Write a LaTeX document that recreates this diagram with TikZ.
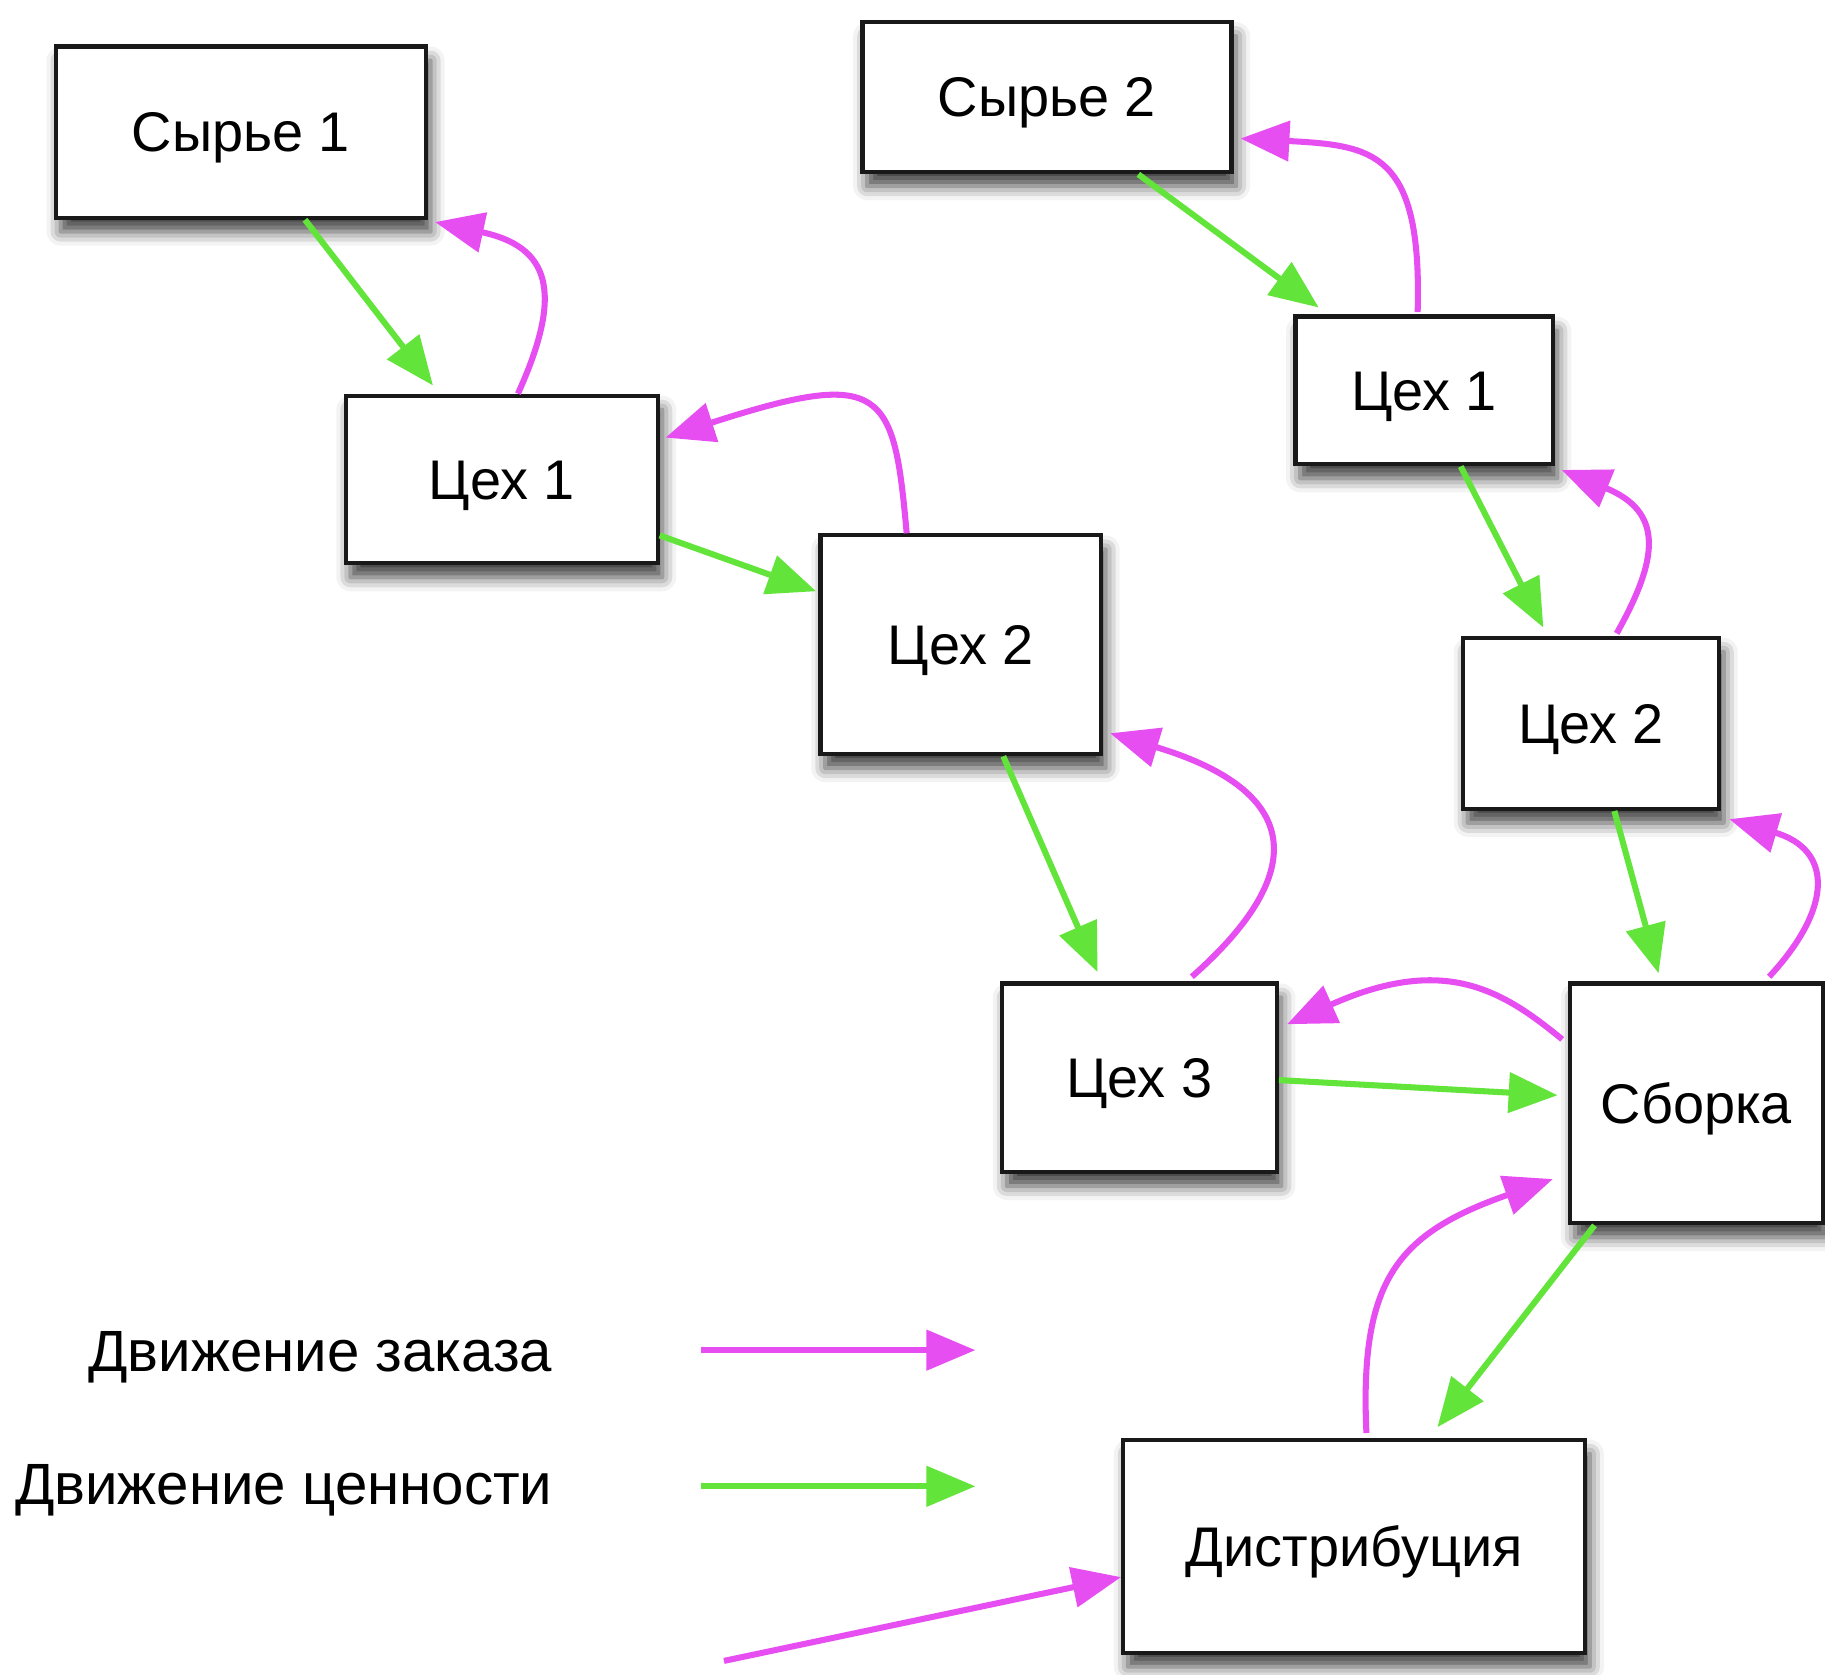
\documentclass[tikz,border=0pt]{standalone}
\usepackage{fontspec}
\setmainfont{Liberation Sans}
\usetikzlibrary{arrows.meta,calc,shadows.blur}
\definecolor{ordc}{RGB}{230,78,242}
\definecolor{valc}{RGB}{98,228,58}
\tikzset{
  box/.style={draw=black!90, line width=1.8pt, fill=white, inner sep=0pt,
    font=\fontsize{24}{28}\selectfont, text height=17pt, text depth=0pt,
    blur shadow={shadow xshift=2pt, shadow yshift=-6pt, shadow blur radius=6pt, shadow opacity=75}},
  flow/.style={line width=2.6pt, -{Triangle[length=21pt,width=17pt]}},
  orderflow/.style={flow, draw=ordc},
  valueflow/.style={flow, draw=valc},
  legtext/.style={font=\fontsize{25}{29}\selectfont, inner sep=0pt}
}
\begin{document}
\begin{tikzpicture}[x=0.5pt,y=-0.5pt]
\useasboundingbox (0,0) rectangle (1568,1439);
% boxes
\node[box, minimum width=159pt, minimum height=73.5pt] (s1) at (207,113.5) {Сырье 1};
\node[box, minimum width=158.5pt, minimum height=64.5pt] (s2) at (899.5,83.5) {Сырье 2};
\node[box, minimum width=134pt, minimum height=72pt] (a1) at (431,412) {Цех 1};
\node[box, minimum width=120.5pt, minimum height=94pt] (a2) at (825.5,554) {Цех 2};
\node[box, minimum width=110.5pt, minimum height=63.5pt] (b1) at (1223.5,335.5) {Цех 1};
\node[box, minimum width=110pt, minimum height=73.5pt] (b2) at (1367,621.5) {Цех 2};
\node[box, minimum width=118pt, minimum height=81pt] (a3) at (979,926) {Цех 3};
\node[box, minimum width=108.5pt, minimum height=103pt] (asm) at (1457.5,948) {Сборка};
\node[box, minimum width=198.5pt, minimum height=91.5pt] (dist) at (1163.5,1328.5) {Дистрибуция};
% value flow (green)
\draw[valueflow] ($(s1.south)+(55,0)$) -- ($(a1.north)+(-59,-7)$);
\draw[valueflow] ($(a1.east)+(0,48)$) -- ($(a2.west)+(-2,-46)$);
\draw[valueflow] ($(s2.south)+(78.5,0)$) -- ($(b1.north)+(-90.5,-6)$);
\draw[valueflow] ($(a2.south)+(36.5,0)$) -- ($(a3.north)+(-36,-8)$);
\draw[valueflow] ($(b1.south)+(31.5,0)$) -- ($(b2.north)+(-41,-7)$);
\draw[valueflow] ($(b2.south)+(20,0)$) -- ($(asm.north)+(-32.5,-7)$);
\draw[valueflow] ($(a3.east)+(0,2)$) -- ($(asm.west)+(-9,-7)$);
\draw[valueflow] ($(asm.south)+(-87.5,0)$) -- ($(dist.north)+(71.5,-9)$);
% order flow (magenta)
\draw[orderflow] ($(a1.north)+(14,0)$) .. controls (485,250) and (472,212) .. ($(s1.south east)+(6,2)$);
\draw[orderflow] ($(a2.north)+(-46.5,0)$) .. controls (768,335) and (760,315) .. ($(a1.east)+(5,-36)$);
\draw[orderflow] ($(b1.north)+(-5.5,-2)$) .. controls (1222,130) and (1180,125) .. ($(s2.east)+(6,35.5)$);
\draw[orderflow] ($(b2.north)+(22,-2)$) .. controls (1425,480) and (1430,440) .. ($(b1.south east)+(6,3)$);
\draw[orderflow] ($(a3.north)+(45,-4)$) .. controls (1125,750) and (1120,680) .. ($(a2.east)+(6,76)$);
\draw[orderflow] ($(asm.north)+(62.5,-4)$) .. controls (1575,780) and (1575,730) .. ($(b2.south east)+(7,7)$);
\draw[orderflow] ($(asm.west)+(-5,-55)$) .. controls (1290,850) and (1240,820) .. ($(a3.east)+(7,-46)$);
\draw[orderflow] ($(dist.north)+(10.5,-4)$) .. controls (1168,1100) and (1200,1060) .. ($(asm.west)+(-13,65)$);
\coordinate (inc) at (622,1427);
\draw[orderflow] (inc) -- ($(dist.west)+(0,26.5)$);
% legend
\node[legtext, anchor=base east] (lg1) at (475,1178) {Движение заказа};
\node[legtext, anchor=base east] (lg2) at (475,1293) {Движение ценности};
\coordinate (l1s) at (602,1160);
\coordinate (l1e) at (838,1160);
\coordinate (l2s) at (602,1277);
\coordinate (l2e) at (838,1277);
\draw[orderflow] (l1s) -- (l1e);
\draw[valueflow] (l2s) -- (l2e);
\end{tikzpicture}
\end{document}
